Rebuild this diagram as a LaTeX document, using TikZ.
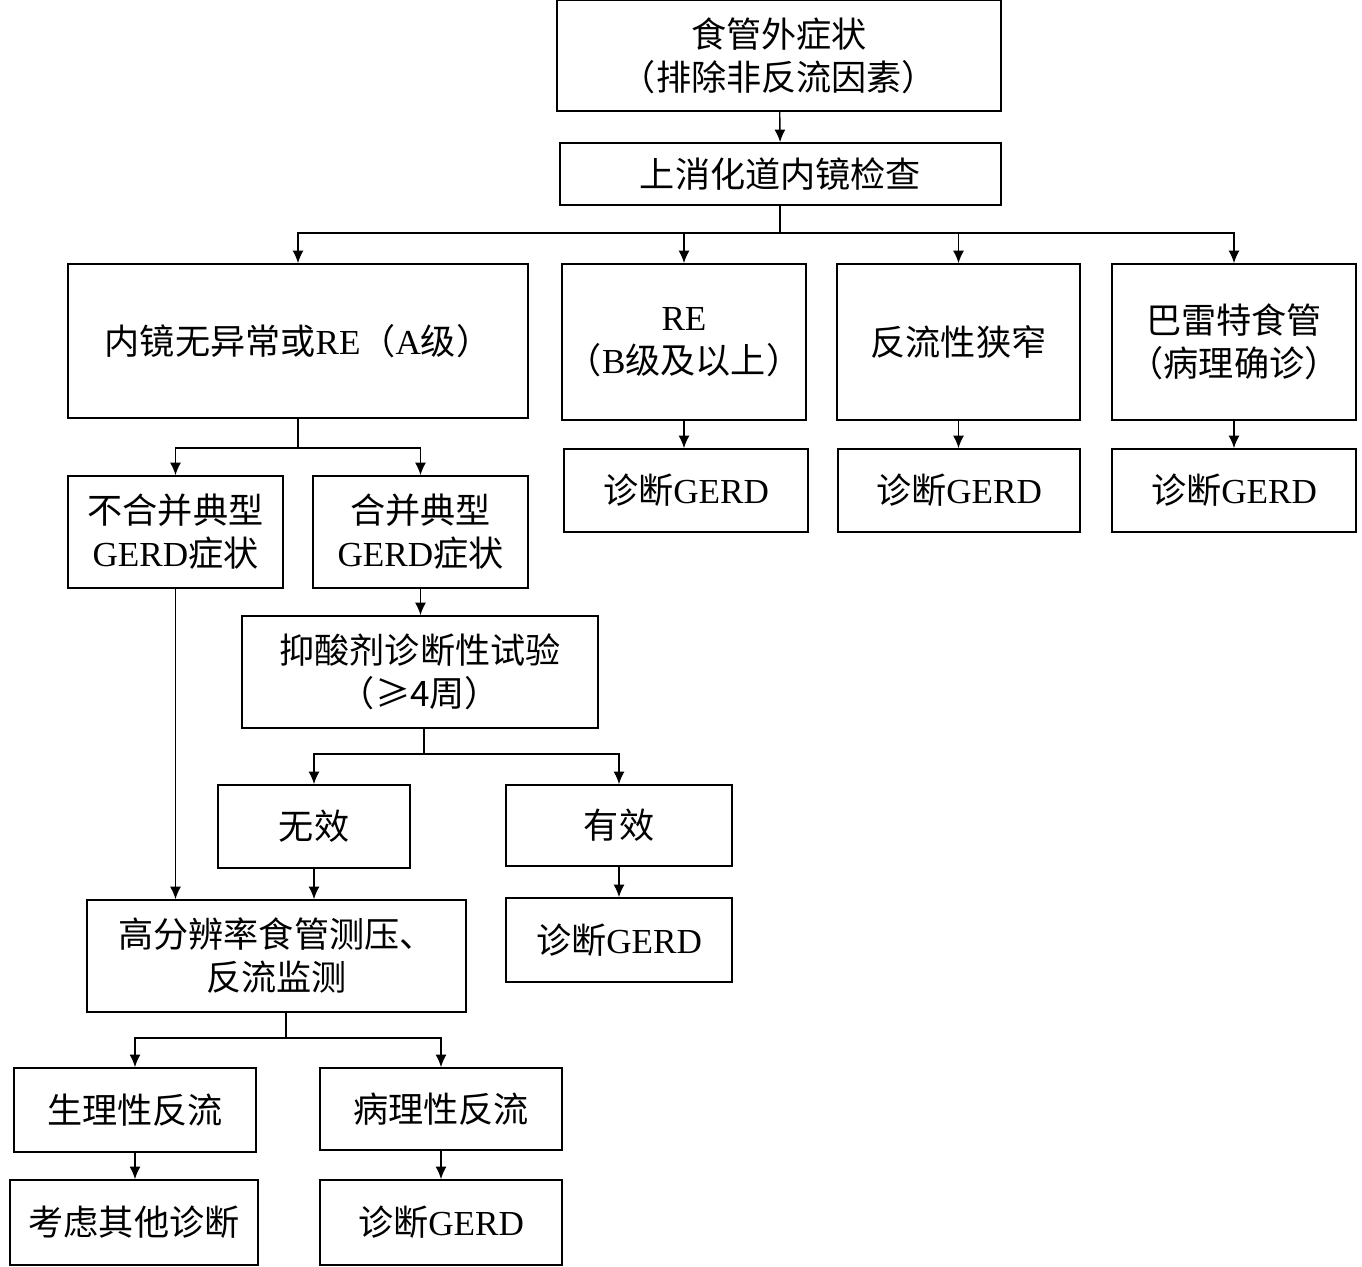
\documentclass[tikz,border=0pt]{standalone}
\usepackage{fontspec}
\setmainfont{Liberation Serif}
\newfontfamily\cjk{Noto Sans CJK SC}
\usetikzlibrary{arrows.meta, calc}

\newcommand{\en}[1]{{\rmfamily #1}}

\begin{document}
\begin{tikzpicture}[x=0.02cm, y=-0.02cm,
                step box/.style={rectangle, draw, line width=1pt, inner sep=0pt, align=center,
                                 font=\cjk\fontsize{20}{24.5}\selectfont},
                paths/.style={line width=0.8pt, -{Latex[length=2.5mm, width=2.2mm]}},
                link/.style={line width=0.8pt}
            ]
                \useasboundingbox (0,0) rectangle (1362,1267);

                % Nodes: top of the chart
                \node[step box, minimum width=8.88cm, minimum height=2.22cm] (symp) at (779,55.5) {食管外症状\\（排除非反流因素）};
                \node[step box, minimum width=8.82cm, minimum height=1.24cm] (endo) at (780.5,174) {上消化道内镜检查};

                % Nodes: endoscopy findings
                \node[step box, minimum width=9.2cm, minimum height=3.08cm] (normal) at (298,341) {内镜无异常或\en{RE}（\en{A}级）};
                \node[step box, minimum width=4.88cm, minimum height=3.12cm] (reb) at (684,342) {\en{RE}\\（\en{B}级及以上）};
                \node[step box, minimum width=4.86cm, minimum height=3.12cm] (strict) at (958.5,342) {反流性狭窄};
                \node[step box, minimum width=4.88cm, minimum height=3.12cm] (barrett) at (1234,342) {巴雷特食管\\（病理确诊）};

                \node[step box, minimum width=4.88cm, minimum height=1.66cm] (gerd1) at (686,490.5) {诊断\en{GERD}};
                \node[step box, minimum width=4.84cm, minimum height=1.66cm] (gerd2) at (959,490.5) {诊断\en{GERD}};
                \node[step box, minimum width=4.88cm, minimum height=1.66cm] (gerd3) at (1234,490.5) {诊断\en{GERD}};

                % Nodes: typical symptoms or not
                \node[step box, minimum width=4.3cm, minimum height=2.24cm] (notyp) at (175.5,532) {不合并典型\\\en{GERD}症状};
                \node[step box, minimum width=4.3cm, minimum height=2.24cm] (typ) at (420.5,532) {合并典型\\\en{GERD}症状};
                \node[step box, minimum width=7.12cm, minimum height=2.24cm] (trial) at (420,672) {抑酸剂诊断性试验\\（≥4周）};

                \node[step box, minimum width=3.84cm, minimum height=1.66cm] (noeff) at (314,826.5) {无效};
                \node[step box, minimum width=4.52cm, minimum height=1.62cm] (eff) at (619,825.5) {有效};
                \node[step box, minimum width=4.52cm, minimum height=1.68cm] (gerd4) at (619,940) {诊断\en{GERD}};

                % Nodes: monitoring
                \node[step box, minimum width=7.58cm, minimum height=2.24cm] (hrm) at (276.5,956) {高分辨率食管测压、\\反流监测};
                \node[step box, minimum width=4.84cm, minimum height=1.68cm] (phys) at (135,1110) {生理性反流};
                \node[step box, minimum width=4.84cm, minimum height=1.64cm] (patho) at (441,1109) {病理性反流};
                \node[step box, minimum width=4.96cm, minimum height=1.7cm] (other) at (134,1222.5) {考虑其他诊断};
                \node[step box, minimum width=4.84cm, minimum height=1.7cm] (gerd5) at (441,1222.5) {诊断\en{GERD}};

                % Branch points
                \coordinate (b1) at (780,233);
                \coordinate (b2) at (298,448);
                \coordinate (b3) at (424,754);
                \coordinate (b4) at (286,1038);

                % Paths: top
                \draw[paths] (symp) -- (endo);
                \draw[link] (endo.south -| b1) -- (b1);
                \draw[paths] (b1) -| (normal.north);
                \draw[paths] (b1) -| (reb.north);
                \draw[paths] (b1) -| (strict.north);
                \draw[paths] (b1) -| (barrett.north);

                \draw[paths] (reb) -- (reb.south |- gerd1.north);
                \draw[paths] (strict) -- (strict.south |- gerd2.north);
                \draw[paths] (barrett) -- (gerd3);

                % Paths: left branch
                \draw[link] (normal) -- (b2);
                \draw[paths] (b2) -| (notyp.north);
                \draw[paths] (b2) -| (typ.north);
                \draw[paths] (typ.south) -- (typ.south |- trial.north);
                \draw[link] (trial.south -| b3) -- (b3);
                \draw[paths] (b3) -| (noeff.north);
                \draw[paths] (b3) -| (eff.north);
                \draw[paths] (eff) -- (gerd4);
                \draw[paths] (noeff) -- (noeff.south |- hrm.north);
                \draw[paths] (notyp) -- (notyp.south |- hrm.north);

                % Paths: bottom
                \draw[link] (hrm.south -| b4) -- (b4);
                \draw[paths] (b4) -| (phys.north);
                \draw[paths] (b4) -| (patho.north);
                \draw[paths] (phys) -- (phys.south |- other.north);
                \draw[paths] (patho) -- (gerd5);
            \end{tikzpicture}
\end{document}
